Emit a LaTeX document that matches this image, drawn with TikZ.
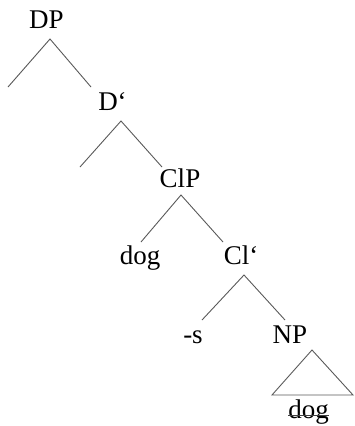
\documentclass[tikz,border=0pt]{standalone}
\usepackage{fontspec}
\setmainfont{Liberation Serif}
\begin{document}
\begin{tikzpicture}[x=1pt,y=-1pt,
  lbl/.style={anchor=base,inner sep=0pt,font=\fontsize{27}{32}\selectfont},
  branch/.style={draw=black!65,line width=0.9pt}]
\useasboundingbox (0,0) rectangle (354,426);
% labels
\node[lbl] (DP)  at (46.5,28) {DP};
\node[lbl] (Dbar) at (112.5,110) {D‘};
\node[lbl] (ClP) at (180,187) {ClP};
\node[lbl] (dog) at (140,264) {dog};
\node[lbl] (Clbar) at (241,264) {Cl‘};
\node[lbl] (s) at (193,343) {-s};
\node[lbl] (NP) at (290,343) {NP};
\node[lbl] (dd) at (308.5,418) {dog};
% branch points
\coordinate (a1) at (50,39);  \coordinate (l1) at (8,87);   \coordinate (r1) at (91,87);
\coordinate (a2) at (121,121);\coordinate (l2) at (80,167);  \coordinate (r2) at (162,167);
\coordinate (a3) at (181,195);\coordinate (l3) at (141,242); \coordinate (r3) at (223,242);
\coordinate (a4) at (244,275);\coordinate (l4) at (202,320); \coordinate (r4) at (285,320);
\coordinate (a5) at (312,350);\coordinate (bl) at (272,395); \coordinate (br) at (353,395);
\draw[branch] (l1) -- (a1) -- (r1);
\draw[branch] (l2) -- (a2) -- (r2);
\draw[branch] (l3) -- (a3) -- (r3);
\draw[branch] (l4) -- (a4) -- (r4);
\draw[branch] (bl) -- (a5) -- (br) -- cycle;
\draw[black!75,line width=0.9pt] ([yshift=0.27em]dd.base west) -- ([yshift=0.27em]dd.base east);
\end{tikzpicture}
\end{document}
